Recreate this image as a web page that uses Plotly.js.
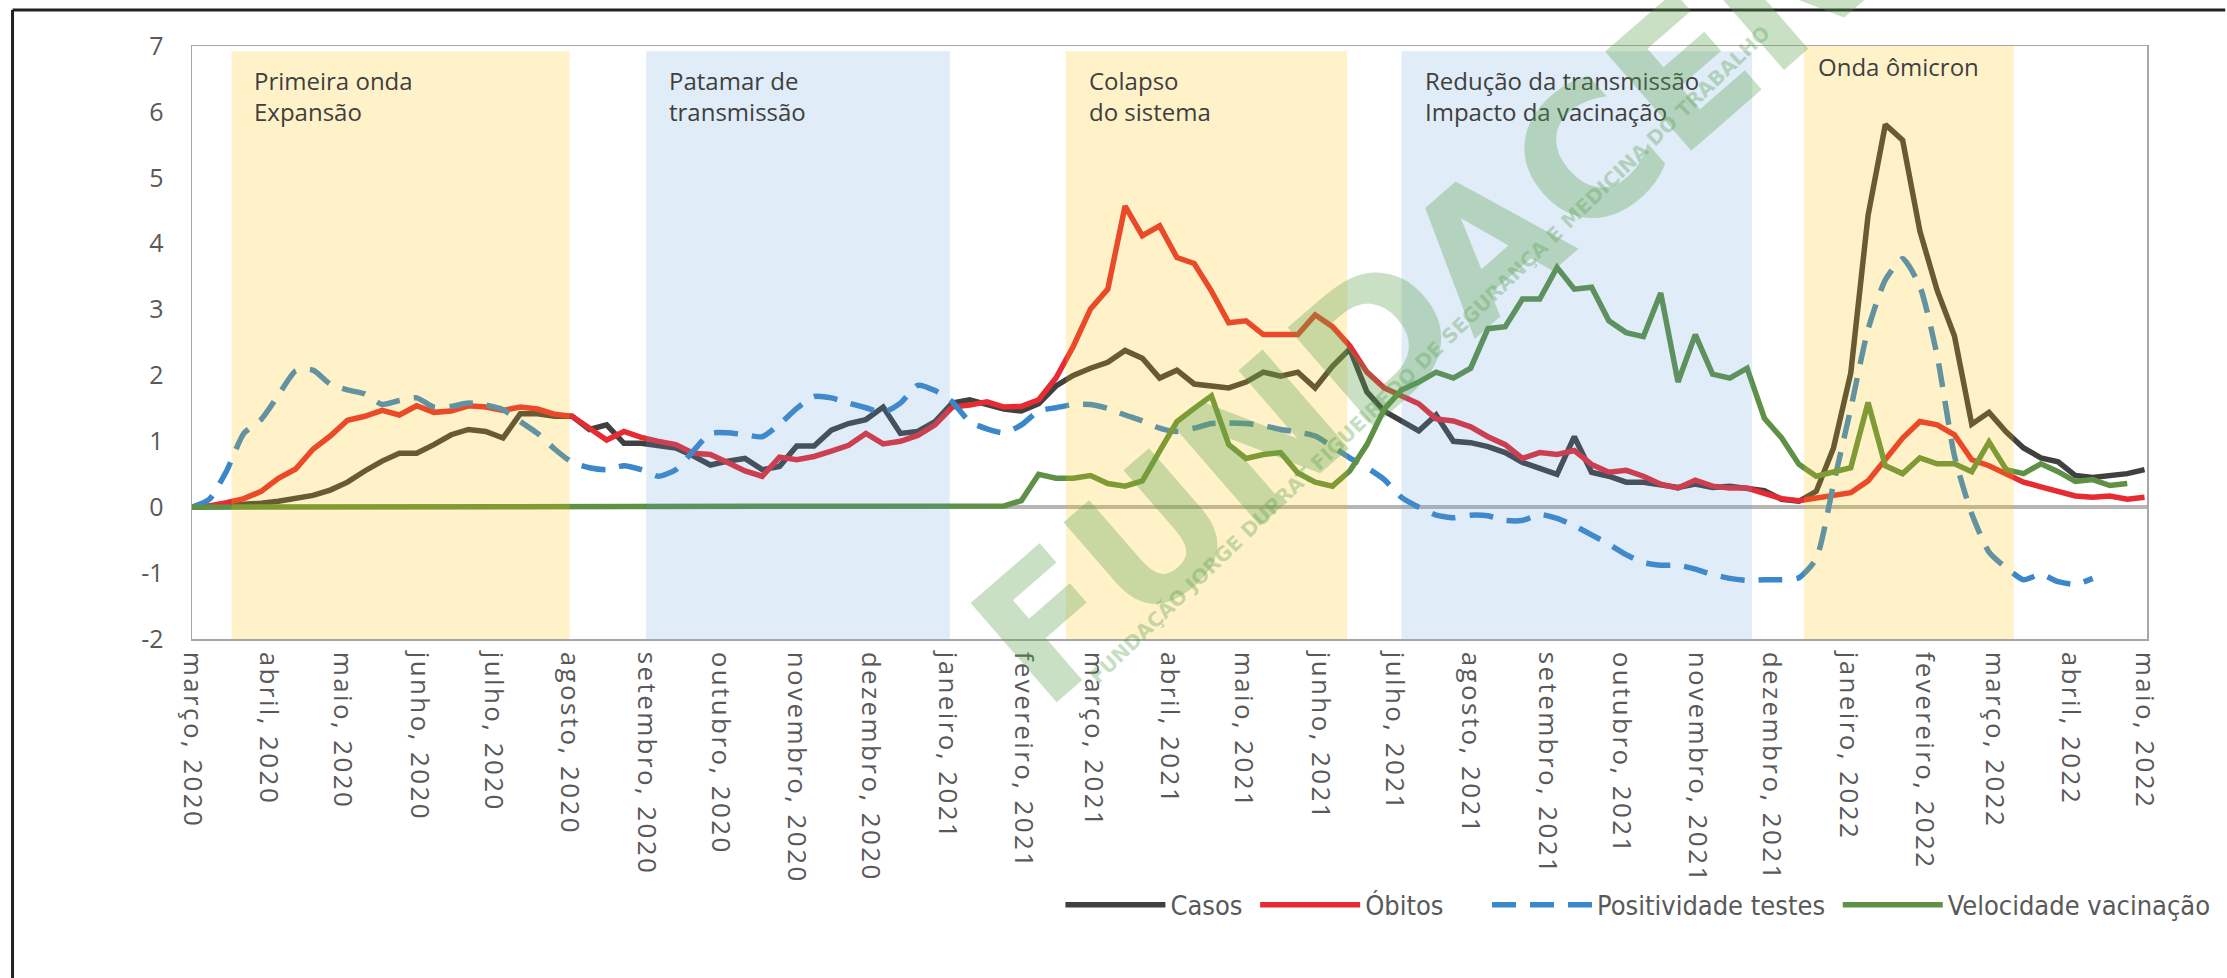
<!DOCTYPE html>
<html><head><meta charset="utf-8">
<script src="https://cdn.plot.ly/plotly-3.0.1.min.js"></script>
<style>html,body{margin:0;padding:0;background:#fff}#chart{width:2227px;height:978px}
.xtick text{letter-spacing:2.4px}</style>
</head><body><div id="chart"></div>
<script>
// weekly series, first week starting 2020-03-01
const firstWeek = '2020-03-01';
const casos = [0,0.01,0.02,0.04,0.06,0.09,0.13,0.18,0.26,0.38,0.55,0.7,0.82,0.82,0.95,1.1,1.18,1.15,1.05,1.42,
1.42,1.38,1.38,1.18,1.25,0.97,0.97,0.93,0.9,0.78,0.64,0.7,0.74,0.57,0.62,0.93,0.93,1.17,1.27,1.33,
1.52,1.12,1.15,1.3,1.58,1.63,1.57,1.49,1.46,1.57,1.84,2.0,2.11,2.2,2.38,2.26,1.96,2.08,1.87,1.84,
1.81,1.9,2.05,1.99,2.05,1.81,2.14,2.4,1.75,1.46,1.31,1.16,1.4,1.0,0.98,0.92,0.83,0.68,0.59,0.5,
1.07,0.53,0.47,0.38,0.38,0.35,0.3,0.35,0.3,0.32,0.29,0.25,0.12,0.09,0.24,0.9,2.04,4.43,5.81,5.57,
4.19,3.29,2.6,1.26,1.44,1.14,0.9,0.75,0.69,0.48,0.45,0.48,0.51,0.57];
const obitos = [0,0.02,0.07,0.13,0.24,0.44,0.58,0.88,1.08,1.32,1.38,1.47,1.4,1.54,1.44,1.46,1.54,1.52,1.47,1.52,
1.49,1.41,1.38,1.2,1.02,1.15,1.06,1.0,0.95,0.82,0.8,0.68,0.55,0.47,0.76,0.72,0.77,0.85,0.94,1.12,
0.96,1.0,1.09,1.25,1.52,1.55,1.6,1.52,1.53,1.63,1.96,2.44,3.01,3.31,4.57,4.12,4.27,3.79,3.7,3.28,
2.8,2.83,2.62,2.62,2.62,2.92,2.74,2.45,2.05,1.81,1.69,1.57,1.34,1.31,1.22,1.07,0.95,0.74,0.83,0.8,
0.86,0.65,0.53,0.56,0.47,0.35,0.29,0.41,0.32,0.29,0.29,0.2,0.13,0.1,0.14,0.17,0.22,0.4,0.72,1.05,
1.3,1.25,1.1,0.72,0.63,0.5,0.38,0.31,0.25,0.17,0.15,0.17,0.12,0.15];
const positividade = [0,0.12,0.55,1.12,1.33,1.7,2.07,2.08,1.87,1.78,1.72,1.56,1.62,1.66,1.52,1.53,1.58,1.55,1.48,1.3,
1.12,0.88,0.68,0.6,0.57,0.63,0.57,0.47,0.57,0.85,1.12,1.13,1.1,1.07,1.26,1.5,1.68,1.66,1.58,1.51,
1.44,1.58,1.85,1.77,1.6,1.3,1.19,1.13,1.25,1.46,1.51,1.56,1.56,1.5,1.4,1.31,1.2,1.15,1.2,1.27,
1.28,1.27,1.24,1.18,1.14,1.08,0.92,0.75,0.6,0.42,0.15,0.0,-0.12,-0.16,-0.12,-0.13,-0.2,-0.2,-0.11,-0.17,
-0.28,-0.42,-0.56,-0.72,-0.84,-0.88,-0.88,-0.94,-1.02,-1.08,-1.11,-1.1,-1.1,-1.07,-0.78,0.35,1.5,2.7,3.45,3.77,
3.35,2.3,0.78,-0.1,-0.68,-0.92,-1.1,-1.02,-1.13,-1.17,-1.08,null,null,null];
const vacinacao = [0,0,0,0,0,0,0,0,0,0,0,0,0,0,0,0,0,0,0,0,
0,0,0,0,0,0,0,0,0,0,0,0,0,0,0,0,0,0,0,0,
0,0,0,0,0,0,0,0.02,0.1,0.5,0.44,0.44,0.48,0.36,0.32,0.4,0.85,1.3,1.5,1.69,
0.95,0.74,0.8,0.83,0.52,0.38,0.32,0.55,0.95,1.49,1.78,1.9,2.05,1.96,2.11,2.71,2.74,3.16,3.16,3.64,
3.31,3.34,2.83,2.65,2.59,3.25,1.9,2.62,2.02,1.96,2.11,1.35,1.05,0.65,0.47,0.53,0.6,1.59,0.63,0.51,
0.75,0.66,0.66,0.54,0.99,0.57,0.51,0.66,0.54,0.39,0.42,0.33,0.36,null];

const seriesNames = ['Casos','Óbitos','Positividade testes','Velocidade vacinação'];
const legendPad = ['\u00A0', '\u00A0\u00A0\u00A0\u00A0\u00A0', '\u00A0', ''];
const seriesColors = ['#404040','#E62B33','#3A87CB','#5E9145'];

const monthTicks = ['2020-03-01','2020-04-01','2020-05-01','2020-06-01','2020-07-01','2020-08-01','2020-09-01',
'2020-10-01','2020-11-01','2020-12-01','2021-01-01','2021-02-01','2021-03-01','2021-04-01','2021-05-01',
'2021-06-01','2021-07-01','2021-08-01','2021-09-01','2021-10-01','2021-11-01','2021-12-01','2022-01-01',
'2022-02-01','2022-03-01','2022-04-01','2022-05-01'];
const monthLabels = ['março, 2020','abril, 2020','maio, 2020','junho, 2020','julho, 2020','agosto, 2020',
'setembro, 2020','outubro, 2020','novembro, 2020','dezembro, 2020','janeiro, 2021','fevereiro, 2021',
'março, 2021','abril, 2021','maio, 2021','junho, 2021','julho, 2021','agosto, 2021','setembro, 2021',
'outubro, 2021','novembro, 2021','dezembro, 2021','janeiro, 2022','fevereiro, 2022','março, 2022',
'abril, 2022','maio, 2022'];
const yTickVals = [-2,-1,0,1,2,3,4,5,6,7];
const yTickText = ['-2','-1','0','1','2','3','4','5','6','7'];

const phaseStart = ['2020-03-17','2020-09-01','2021-02-18','2021-07-04','2021-12-14'];
const phaseEnd   = ['2020-08-01','2021-01-02','2021-06-12','2021-11-23','2022-03-09'];
const phaseLabels = ['Primeira onda<br>Expansão','Patamar de<br>transmissão','Colapso<br>do sistema',
'Redução da transmissão<br>Impacto da vacinação','Onda ômicron'];
const phaseKind = ['y','b','y','b','y'];

const start = Date.parse(firstWeek + 'T00:00:00Z');
const weeks = casos.map((_, i) => new Date(start + i * 7 * 86400000).toISOString().slice(0, 10));

const values = [casos, obitos, positividade, vacinacao];
const traces = values.map((v, k) => ({
  x: weeks, y: v, type: 'scatter', mode: 'lines', name: seriesNames[k] + legendPad[k],
  line: {color: seriesColors[k], width: 5.5,
         dash: k === 2 ? '24px,14px' : 'solid',
         shape: k === 2 ? 'spline' : 'linear', smoothing: 0.6},
  hoverinfo: 'skip'
}));

const fills = {y: 'rgba(255,192,0,0.21)', b: 'rgba(91,155,213,0.19)'};
const shapes = phaseStart.map((s, i) => ({
  type: 'rect', xref: 'x', yref: 'y', layer: 'above',
  x0: s, x1: phaseEnd[i], y0: -2, y1: i === 4 ? 7 : 6.92,
  fillcolor: fills[phaseKind[i]], line: {width: 0}
}));
// outer frame (top and left edges)
shapes.push({type: 'line', xref: 'paper', yref: 'paper', x0: -0.0918, x1: 1.04, y0: 1.0607, y1: 1.0607, line: {color: '#222', width: 3}});
shapes.push({type: 'line', xref: 'paper', yref: 'paper', x0: -0.0918, x1: -0.0918, y0: 1.0607, y1: -0.58, line: {color: '#222', width: 3}});

const annotations = phaseStart.map((s, i) => ({
  x: s, xref: 'x', y: i === 4 ? 0.965 : 0.915, yref: 'paper',
  xanchor: 'left', yanchor: 'middle', xshift: i === 4 ? 12 : 21, align: 'left',
  text: phaseLabels[i], showarrow: false,
  font: {family: 'Open Sans, sans-serif', size: 24, color: '#3F3F3F'}
}));
annotations.push({
  text: 'FUNDACENTRO', xref: 'paper', yref: 'paper', x: 0.71, y: 0.80,
  xanchor: 'center', yanchor: 'middle',
  textangle: -41, showarrow: false,
  font: {family: 'DejaVu Sans, sans-serif', size: 180, weight: 'bold', color: 'rgba(90,160,80,0.33)'}
});
annotations.push({
  text: 'FUNDAÇÃO JORGE DUPRAT FIGUEIREDO DE SEGURANÇA E MEDICINA DO TRABALHO', xref: 'paper', yref: 'paper',
  x: 0.633, y: 0.479, xanchor: 'center', yanchor: 'middle', textangle: -44, showarrow: false,
  font: {family: 'DejaVu Sans, sans-serif', size: 20, weight: 'bold', color: 'rgba(90,160,80,0.35)'}
});

const layout = {
  width: 2227, height: 978,
  margin: {l: 192, r: 74, t: 46, b: 339, pad: 0},
  paper_bgcolor: '#ffffff', plot_bgcolor: '#ffffff',
  hovermode: false,
  showlegend: true,
  legend: {orientation: 'h', x: 1.035, xanchor: 'right', y: -0.449, yanchor: 'middle',
           font: {family: 'Liberation Sans Narrow, Arial Narrow, DejaVu Sans Condensed, sans-serif', size: 27, color: '#595959'},
           itemwidth: 100, bgcolor: 'rgba(0,0,0,0)'},
  xaxis: {type: 'date', range: ['2020-03-01', '2022-05-02'], tickvals: monthTicks, ticktext: monthLabels,
          tickangle: 90, tickfont: {family: 'Open Sans, sans-serif', size: 26, color: '#595959'},
          showgrid: false, zeroline: false, showline: true, mirror: true, linecolor: '#A6A6A6', linewidth: 1.5,
          ticks: '', ticklabelstandoff: 6, fixedrange: true},
  yaxis: {range: [-2, 7], tickvals: yTickVals, ticktext: yTickText, showgrid: false,
          zeroline: true, zerolinecolor: '#B5B5B5', zerolinewidth: 3.5,
          showline: true, mirror: true, linecolor: '#A6A6A6', linewidth: 1.5, ticks: '',
          tickfont: {family: 'Open Sans, sans-serif', size: 25, color: '#595959'}, ticklabelstandoff: 22, fixedrange: true},
  shapes: shapes,
  annotations: annotations
};

Plotly.newPlot('chart', traces, layout, {displayModeBar: false, staticPlot: true});
</script>
</body></html>
